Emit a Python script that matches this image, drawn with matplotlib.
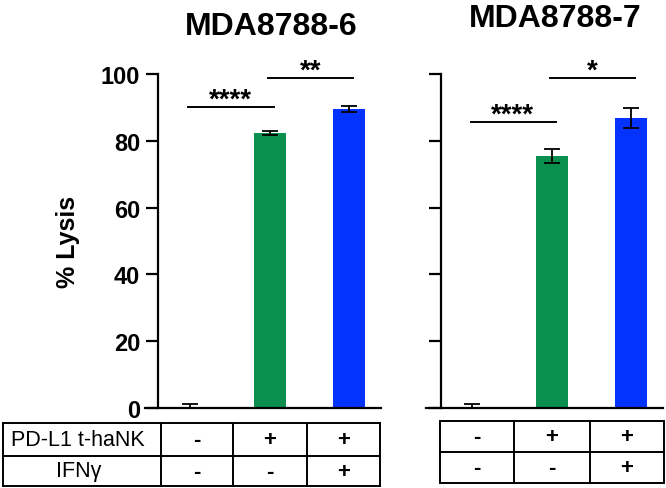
import matplotlib
matplotlib.use("Agg")
import matplotlib.pyplot as plt
from matplotlib.lines import Line2D

plt.rcParams['font.family'] = ['Liberation Sans', 'DejaVu Sans']

# -----------------------
# Data
# -----------------------
cell_lines = ["MDA8788-6", "MDA8788-7"]
bar_colors = ["#bdbdbd", "#0a8f4e", "#0433ff"]

lysis_6 = [0.3, 82.4, 89.5]
err_6 = [1.0, 0.6, 1.0]
lysis_7 = [0.3, 75.5, 86.7]
err_7 = [1.0, 2.0, 3.0]

# (left bar, right bar, label, height)
sig_6 = [(0, 1, "****", 90.0), (1, 2, "**", 98.8)]
sig_7 = [(0, 1, "****", 85.6), (1, 2, "*", 98.8)]

yticks = [0, 20, 40, 60, 80, 100]
row_labels = ["PD-L1 t-haNK", "IFN\u03b3"]
haNK = ["-", "+", "+"]
ifng = ["-", "-", "+"]

W, H = 666, 489
fig = plt.figure(figsize=(W / 100, H / 100), dpi=100)


def px(x, y):
    # pixel coords (top-left origin) -> figure fraction
    return x / W, 1 - y / H


def make_panel(left, right, spine_x, xmin, vals, errs, sigs):
    x0, y0 = px(left, 409)
    x1, y1 = px(right, 75)
    ax = fig.add_axes([x0, y0, x1 - x0, y1 - y0])
    pos = list(range(len(vals)))
    ax.bar(pos, vals, width=0.4, color=bar_colors, zorder=2)
    ax.errorbar(pos, vals, yerr=errs, fmt="none", ecolor="black",
                elinewidth=1.3, capsize=6, capthick=1.3, zorder=3)
    ax.set_xlim(xmin, 2.4)
    ax.set_ylim(0, 100)
    for s in ["top", "right"]:
        ax.spines[s].set_visible(False)
    ax.spines["left"].set_position(("data", spine_x))
    ax.spines["left"].set_linewidth(1.6)
    ax.spines["bottom"].set_linewidth(1.6)
    ax.set_xticks([])
    ax.set_yticks(yticks)
    ax.tick_params(axis="y", direction="out", length=9, width=1.6,
                   labelsize=17, pad=4)
    for t in ax.get_yticklabels():
        t.set_fontweight("bold")
    for a, b, lab, h in sigs:
        ax.plot([a - 0.02, b + 0.05], [h, h], color="black", lw=1.4,
                clip_on=False, zorder=4)
        ax.text((a + b) / 2 + 0.01, h + 2.2, lab, ha="center", va="center",
                fontsize=20, fontweight="bold", clip_on=False)
    return ax


ax1 = make_panel(145, 381, -0.40, -0.566, lysis_6, err_6, sig_6)
ax2 = make_panel(426, 663, -0.39, -0.58, lysis_7, err_7, sig_7)
ax2.set_yticklabels([])

# titles
fig.text(*px(271, 27), cell_lines[0], ha="center", va="center",
         fontsize=23, fontweight="bold")
fig.text(*px(555, 19), cell_lines[1], ha="center", va="center",
         fontsize=23, fontweight="bold")

# y label
fig.text(*px(68, 242), "% Lysis", ha="center", va="center", rotation=90,
         fontsize=18, fontweight="bold")


# -----------------------
# Condition tables
# -----------------------
def hline(xa, xb, y):
    (fa, fy), (fb, _) = px(xa, y), px(xb, y)
    fig.add_artist(Line2D([fa, fb], [fy, fy], color="black", lw=1.4))


def vline(x, ya, yb):
    (fx, fa), (_, fb) = px(x, ya), px(x, yb)
    fig.add_artist(Line2D([fx, fx], [fa, fb], color="black", lw=1.4))


label_left = [11, 56]


def draw_table(cols, rows_y, labels):
    for y in rows_y:
        hline(cols[0], cols[-1], y)
    for x in cols:
        vline(x, rows_y[0], rows_y[-1])
    for r, row in enumerate([haNK, ifng]):
        yc = (rows_y[r] + rows_y[r + 1]) / 2
        off = 0
        if labels:
            fig.text(*px(label_left[r], yc), row_labels[r],
                     ha="left", va="center", fontsize=15.5)
            off = 1
        for c, sym in enumerate(row):
            xc = (cols[c + off] + cols[c + off + 1]) / 2
            fig.text(*px(xc, yc), sym, ha="center", va="center",
                     fontsize=16, fontweight="bold")


draw_table([3, 161, 233, 307, 380], [424, 457, 487], True)
draw_table([440, 514, 590, 664], [422, 453, 484], False)

fig.savefig("out.png", dpi=100)
